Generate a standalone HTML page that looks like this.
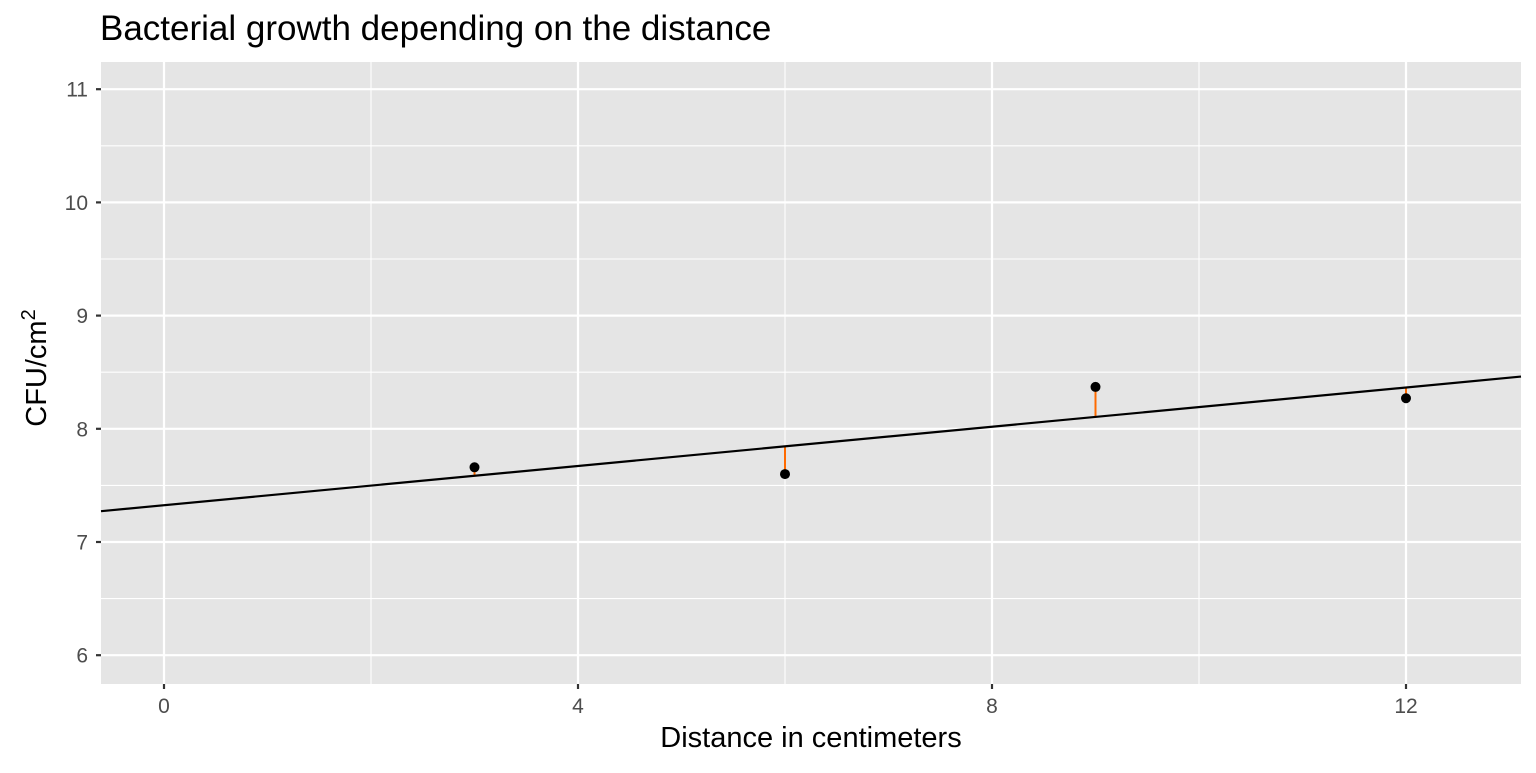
<!DOCTYPE html>
<html><head><meta charset="utf-8"><style>
body{margin:0;background:#fff;font-family:"Liberation Sans",Arial,sans-serif}
</style></head><body>
<svg id="c" width="1536" height="768" xmlns="http://www.w3.org/2000/svg" font-family="Liberation Sans, Arial, sans-serif"></svg>
<script>
const xs=[3,6,9,12];
const ys=[7.66,7.60,8.37,8.27];
const xTicks=[0,4,8,12];
const yTicks=[6,7,8,9,10,11];
const NS="http://www.w3.org/2000/svg";
const svg=document.getElementById('c');
const L=101,R=1521,T=62,B=684;
const X=v=>164+(v-0)*103.5;
const Y=v=>542-(v-7)*113.2;
const xmin=(L-164)/103.5, xmax=(R-164)/103.5;
function el(t,a,p){const e=document.createElementNS(NS,t);for(const k in a)e.setAttribute(k,a[k]);(p||svg).appendChild(e);return e;}
let r=el('rect',{x:L,y:T,width:R-L,height:B-T,fill:'#e5e5e5'});


for(let v=-2;v<=14;v+=4){if(v<xmin||v>xmax)continue;const g=el('line',{x1:X(v),x2:X(v),y1:T,y2:B,stroke:'#fff','stroke-width':1.1});}
for(let v=5.5;v<=11.5;v+=1){const y=Y(v);if(y<T||y>B)continue;const g=el('line',{x1:L,x2:R,y1:y,y2:y,stroke:'#fff','stroke-width':1.1});}
xTicks.forEach(v=>{const g=el('line',{x1:X(v),x2:X(v),y1:T,y2:B,stroke:'#fff','stroke-width':2.2});
const t=el('line',{x1:X(v),x2:X(v),y1:B,y2:B+5,stroke:'#333','stroke-width':2.2});
const l=el('text',{x:X(v),y:B+29,'text-anchor':'middle','font-size':21,fill:'#4d4d4d'});l.textContent=v;});
yTicks.forEach(v=>{const g=el('line',{x1:L,x2:R,y1:Y(v),y2:Y(v),stroke:'#fff','stroke-width':2.2});
const t=el('line',{x1:L-5,x2:L,y1:Y(v),y2:Y(v),stroke:'#333','stroke-width':2.2});
const l=el('text',{x:L-13,y:Y(v)+7.5,'text-anchor':'end','font-size':21,fill:'#4d4d4d'});l.textContent=v;});
const n=xs.length,mx=xs.reduce((a,b)=>a+b)/n,my=ys.reduce((a,b)=>a+b)/n;
let sxy=0,sxx=0;xs.forEach((x,i)=>{sxy+=(x-mx)*(ys[i]-my);sxx+=(x-mx)**2;});
const b1=sxy/sxx,b0=my-b1*mx;
xs.forEach((x,i)=>{const s=el('line',{x1:X(x),x2:X(x),y1:Y(ys[i]),y2:Y(b0+b1*x),stroke:'#ff6a00','stroke-width':2});});
const fl=el('line',{x1:L,x2:R,y1:Y(b0+b1*xmin),y2:Y(b0+b1*xmax),stroke:'#000','stroke-width':2.2});


xs.forEach((x,i)=>{const c=el('circle',{cx:X(x),cy:Y(ys[i]),r:5,fill:'#000'});});
</script>
<div style="position:absolute;left:100px;top:9px;font-size:35px;color:#000;white-space:nowrap">Bacterial growth depending on the distance</div>
<div style="position:absolute;left:0;width:1622px;top:722px;text-align:center;font-size:29px;color:#000">Distance in centimeters</div>
<div style="position:absolute;left:36px;top:368px;transform:translate(-50%,-50%) rotate(-90deg);font-size:29px;white-space:nowrap;color:#000">CFU/cm<sup style="font-size:20px">2</sup></div>
</body></html>
